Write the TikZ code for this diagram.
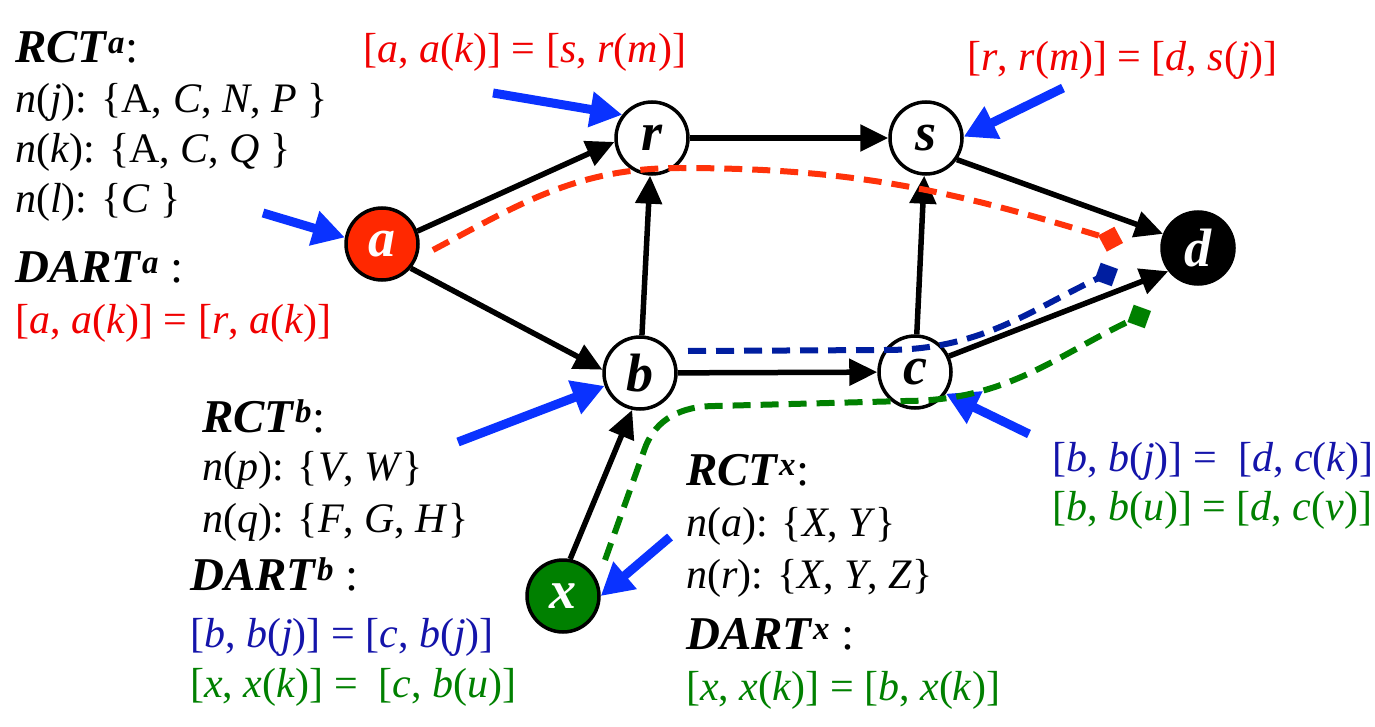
\documentclass[tikz,border=0pt]{standalone}
\usepackage{fontspec}
\setmainfont{Liberation Serif}[
  ItalicFont={Liberation Serif Italic},
  BoldFont={Liberation Serif Bold},
  BoldItalicFont={Liberation Serif Bold Italic}]
\usetikzlibrary{arrows.meta}

\definecolor{nodered}{RGB}{255,40,0}
\definecolor{pathred}{RGB}{255,50,10}
\definecolor{txtred}{RGB}{240,0,0}
\definecolor{txtblue}{RGB}{20,20,170}
\definecolor{pathblue}{RGB}{0,30,160}
\definecolor{txtgreen}{RGB}{0,128,0}
\definecolor{ptrblue}{RGB}{10,50,255}

\newcommand{\hd}[2]{\textbf{\textit{#1}}\textsuperscript{\textbf{\textit{#2}}}}

\begin{document}
\begin{tikzpicture}[x=1pt,y=-1pt,
    router/.style={circle,draw=black,line width=3.5pt,fill=white,minimum size=72pt,inner sep=0pt,
      font=\fontsize{54}{54}\selectfont\bfseries\itshape},
    link/.style={line width=5.5pt,-{Triangle[length=28pt,width=26pt]}},
    pointer/.style={ptrblue,line width=9pt,-{Triangle[length=32pt,width=34pt]}},
    route/.style={line width=6pt,dash pattern=on 18pt off 10pt,-{Turned Square[length=26pt,width=26pt]}},
    txt/.style={anchor=base west,inner sep=0pt,font=\fontsize{42}{50}\selectfont},
    hdtxt/.style={anchor=base west,inner sep=0pt,font=\fontsize{47}{50}\selectfont}]
  \useasboundingbox (0,0) rectangle (1375,727);

  % routers
  \node[router,fill=nodered,text=white] (a) at (382,244) {a};
  \node[router] (r) at (652,138) {r};
  \node[router] (s) at (926,138) {s};
  \node[router,fill=black,text=white] (d) at (1198,248) {d};
  \node[router] (b) at (640,373) {b};
  \node[router] (c) at (915,372) {c};
  \node[router,fill=txtgreen,text=white] (x) at (563,596) {x};

  % links
  \foreach \u/\v in {a.20/r.186, a.-40/b.175, r/s, b/r, b/c, c/s, s.-35/d.158, c.25/d.218, x.79/b.258}
    \draw[link] (\u) -- (\v);

  % pointers
  \coordinate (pa) at (263,213);
  \coordinate (pr) at (493,93);
  \coordinate (ps) at (1063,88);
  \coordinate (pb) at (458,442);
  \coordinate (pc) at (1029,434);
  \coordinate (px) at (670,537);
  \foreach \p/\t in {pa/a.170, pr/r.142, ps/s.2, pb/b.200, pc/c.-35, px/x.east}
    \draw[pointer] (\p) -- (\t);

  % routes
  \coordinate (ra) at (433,250);
  \coordinate (rd) at (1123,243);
  \coordinate (ba) at (688,351);
  \coordinate (bd) at (1118,269);
  \coordinate (ga) at (605,560);
  \coordinate (gd) at (1151,311);
  \draw[route,pathred] (ra) to[out=28,in=180] (680,168) to[out=0,in=163] (rd);
  \draw[route,pathblue] (ba) -- (885,350) to[out=0,in=205] (bd);
  \draw[route,txtgreen] (ga) -- (645,448) to[out=70,in=180] (715,406) -- (905,401) to[out=0,in=205] (gd);

  % tables of a
  \node[hdtxt] (rcta) at (15,63) {\hd{RCT}{a}:};
  \node[txt] (rcta1) at (15,113) {\textit{n}(\textit{j}): \{A, \textit{C}, \textit{N}, \textit{P} \}};
  \node[txt] (rcta2) at (15,163) {\textit{n}(\textit{k}): \{A, \textit{C}, \textit{Q} \}};
  \node[txt] (rcta3) at (15,213) {\textit{n}(\textit{l}): \{\textit{C} \}};
  \node[hdtxt] (darta) at (15,283) {\hd{DART}{a} :};
  \node[txt,txtred] (darta1) at (15,333) {[\textit{a}, \textit{a}(\textit{k})] = [\textit{r}, \textit{a}(\textit{k})]};

  % entries at r and s
  \node[txt,txtred] (dartr) at (363,63) {[\textit{a}, \textit{a}(\textit{k})] = [\textit{s}, \textit{r}(\textit{m})]};
  \node[txt,txtred] (darts) at (967,71) {[\textit{r}, \textit{r}(\textit{m})] = [\textit{d}, \textit{s}(\textit{j})]};

  % tables of b
  \node[hdtxt] (rctb) at (202,432) {\hd{RCT}{b}:};
  \node[txt] (rctb1) at (202,480) {\textit{n}(\textit{p}): \{\textit{V}, \textit{W}\}};
  \node[txt] (rctb2) at (202,532) {\textit{n}(\textit{q}): \{\textit{F}, \textit{G}, \textit{H}\}};
  \node[hdtxt] (dartb) at (190,590) {\hd{DART}{b} :};
  \node[txt,txtblue] (dartb1) at (190,647) {[\textit{b}, \textit{b}(\textit{j})] = [\textit{c}, \textit{b}(\textit{j})]};
  \node[txt,txtgreen] (dartb2) at (190,697) {[\textit{x}, \textit{x}(\textit{k})] = \ [\textit{c}, \textit{b}(\textit{u})]};

  % tables of x
  \node[hdtxt] (rctx) at (686,485) {\hd{RCT}{x}:};
  \node[txt] (rctx1) at (686,536) {\textit{n}(\textit{a}): \{\textit{X}, \textit{Y}\}};
  \node[txt] (rctx2) at (686,588) {\textit{n}(\textit{r}): \{\textit{X}, \textit{Y}, \textit{Z}\}};
  \node[hdtxt] (dartx) at (686,649) {\hd{DART}{x} :};
  \node[txt,txtgreen] (dartx1) at (686,700) {[\textit{x}, \textit{x}(\textit{k})] = [\textit{b}, \textit{x}(\textit{k})]};

  % entries at c
  \node[txt,txtblue] (dartc1) at (1052,471) {[\textit{b}, \textit{b}(\textit{j})] = \ [\textit{d}, \textit{c}(\textit{k})]};
  \node[txt,txtgreen] (dartc2) at (1052,520) {[\textit{b}, \textit{b}(\textit{u})] = [\textit{d}, \textit{c}(\textit{v})]};
\end{tikzpicture}
\end{document}
